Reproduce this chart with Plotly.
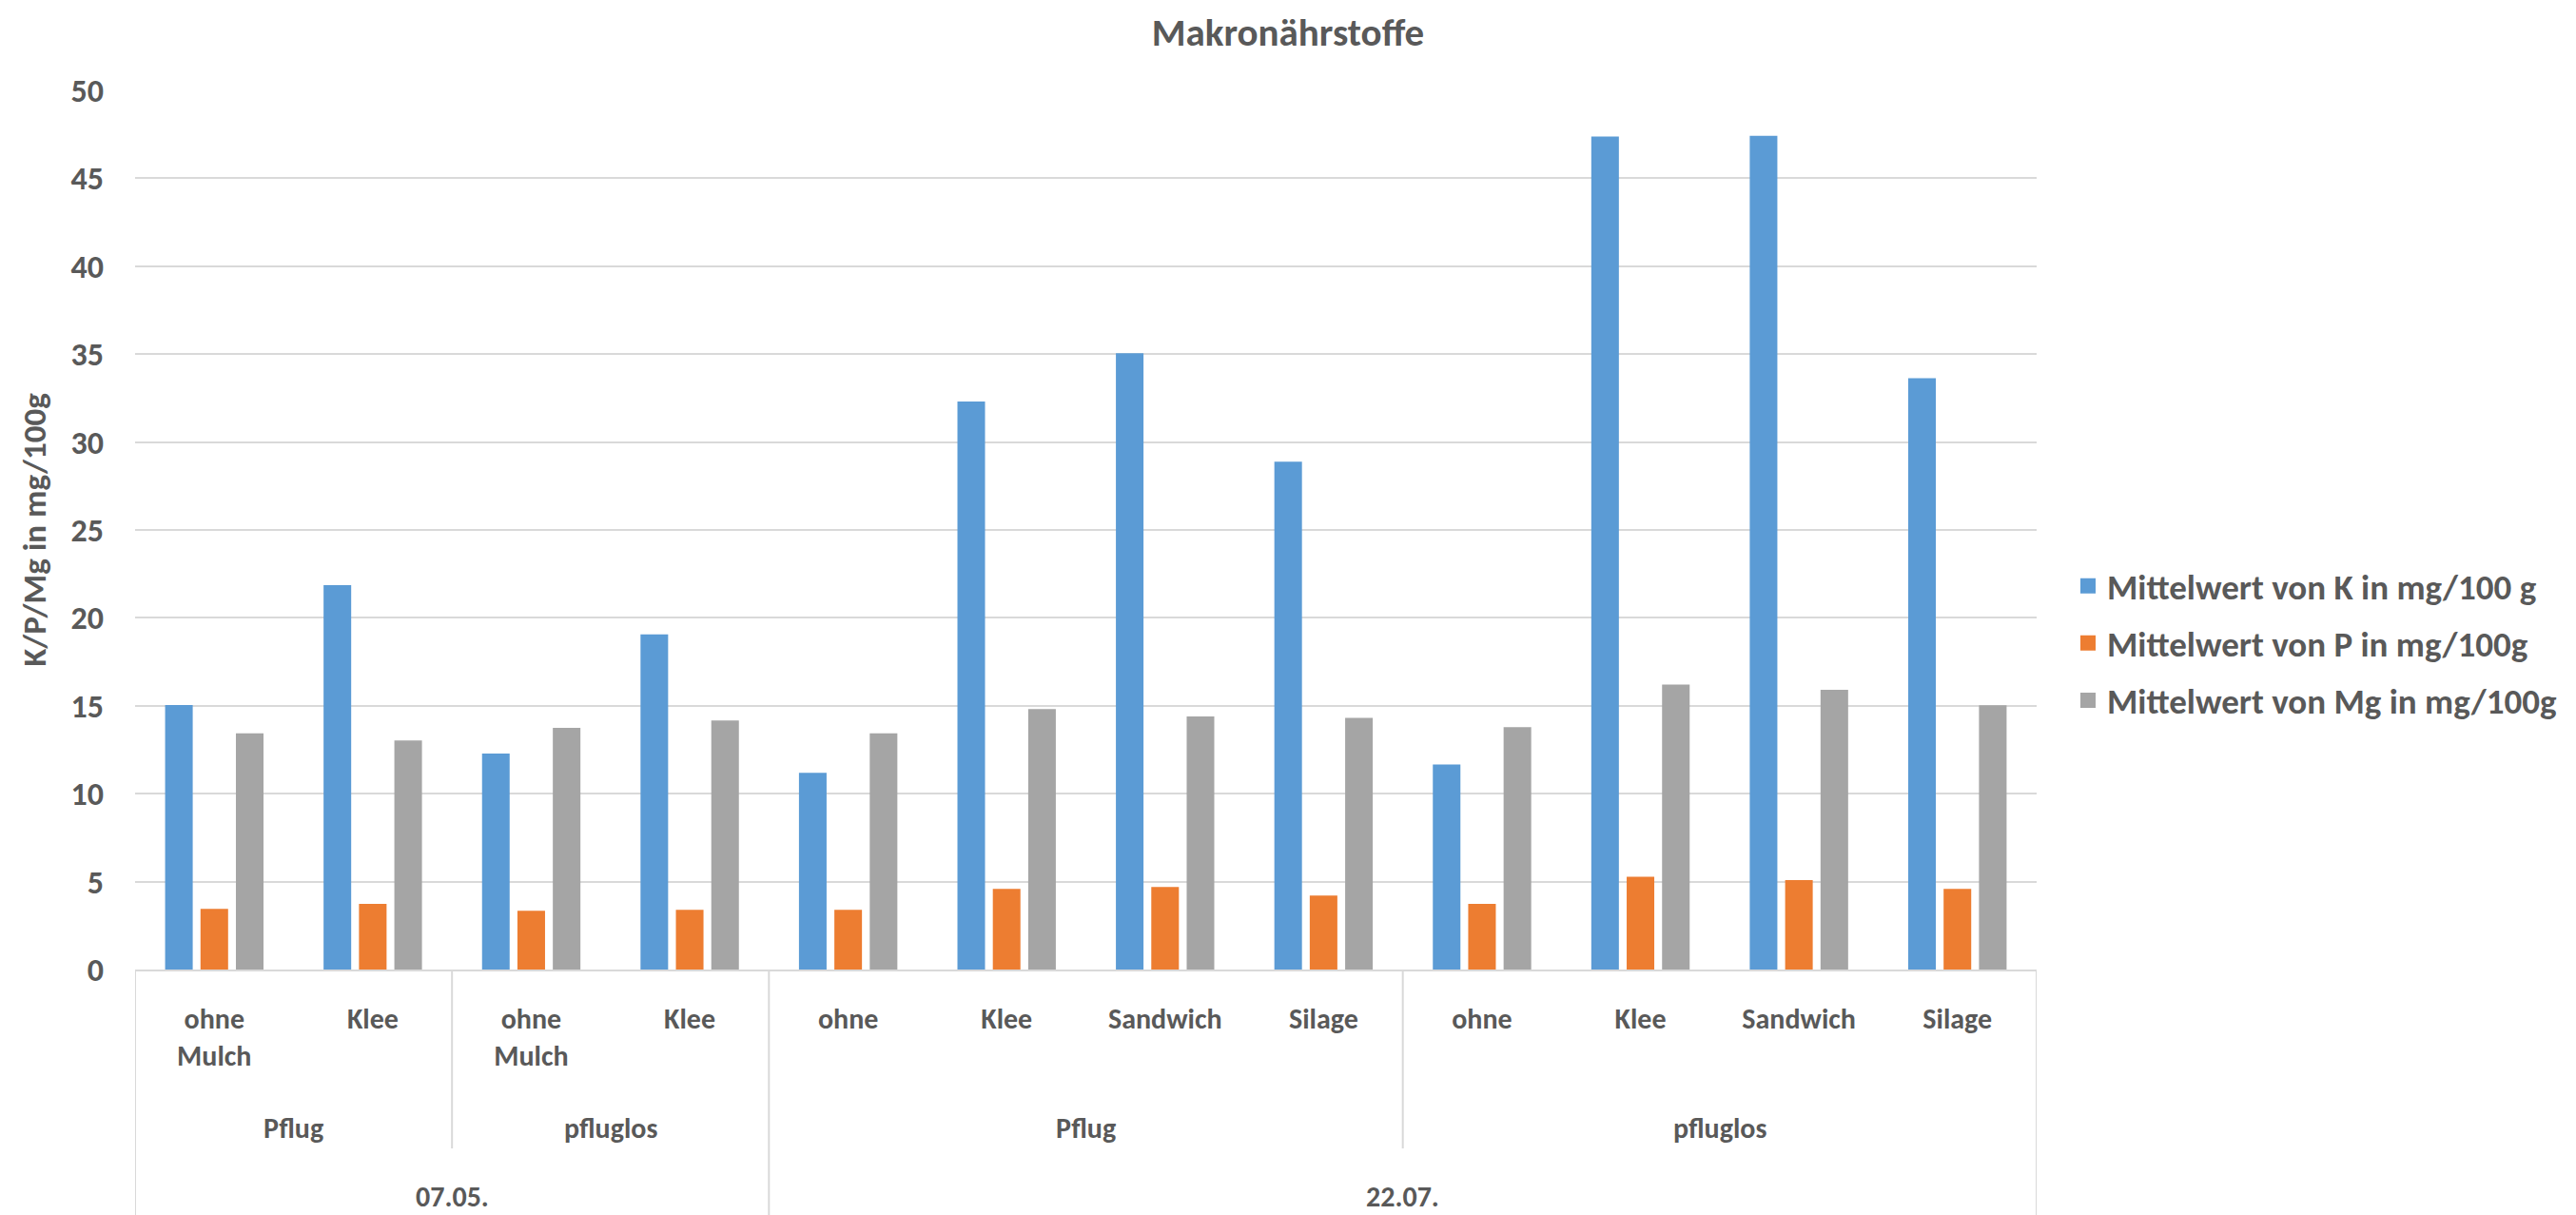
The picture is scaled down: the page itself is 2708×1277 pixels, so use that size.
import plotly.graph_objects as go

# ---- data ----
sub_labels = ["ohne<br>Mulch", "Klee", "ohne<br>Mulch", "Klee",
              "ohne", "Klee", "Sandwich", "Silage",
              "ohne", "Klee", "Sandwich", "Silage"]
tillage_labels = ["Pflug", "pfluglos", "Pflug", "pfluglos"]
tillage_spans = [(0, 1), (2, 3), (4, 7), (8, 11)]
date_labels = ["07.05.", "22.07."]
date_spans = [(0, 3), (4, 11)]

series_names = ["Mittelwert von K in mg/100 g",
                "Mittelwert von P in mg/100g",
                "Mittelwert von Mg in mg/100g"]
k_values = [15.05, 21.86, 12.29, 19.06, 11.19, 32.3, 35.05, 28.88, 11.66, 47.38, 47.41, 33.63]
p_values = [3.45, 3.74, 3.34, 3.39, 3.39, 4.58, 4.69, 4.21, 3.73, 5.27, 5.08, 4.58]
mg_values = [13.43, 13.03, 13.75, 14.17, 13.43, 14.82, 14.39, 14.31, 13.79, 16.21, 15.91, 15.03]
y_ticks = [0, 5, 10, 15, 20, 25, 30, 35, 40, 45, 50]
colors = ["#5B9BD5", "#ED7D31", "#A5A5A5"]

FONT = "Carlito, Calibri, Lato, sans-serif"
TXT = "#595959"
GRID = "#D9D9D9"


def bold(s):
    return "<b>" + s + "</b>"


x = list(range(len(sub_labels)))

fig = go.Figure()
for i, (name, vals) in enumerate(zip(series_names, [k_values, p_values, mg_values])):
    fig.add_trace(go.Bar(
        x=x, y=vals, name=bold(name),
        marker=dict(color=colors[i], line=dict(width=0)),
        legendgroup=f"g{i}", showlegend=False,
    ))
    # legend entry with a larger square swatch
    fig.add_trace(go.Scatter(
        x=[None], y=[None], mode="markers", name=bold(name),
        marker=dict(symbol="square", size=21, color=colors[i], line=dict(width=0)),
        legendgroup=f"g{i}", showlegend=True, hoverinfo="skip",
    ))

# level 2 and 3 category labels
for lab, (a, b) in zip(tillage_labels, tillage_spans):
    fig.add_annotation(x=(a + b) / 2, y=-0.1797, xref="x", yref="paper",
                       text=bold(lab), showarrow=False, yanchor="middle",
                       font=dict(family=FONT, size=30, color=TXT))
for lab, (a, b) in zip(date_labels, date_spans):
    fig.add_annotation(x=(a + b) / 2, y=-0.2580, xref="x", yref="paper",
                       text=bold(lab), showarrow=False, yanchor="middle",
                       font=dict(family=FONT, size=30, color=TXT))

# separator lines below the axis
date_bounds = [b + 0.5 for (_, b) in date_spans]
short_bounds = [b + 0.5 for (_, b) in tillage_spans if b + 0.5 not in date_bounds]
long_bounds = [-0.5] + date_bounds
for xb in long_bounds:
    fig.add_shape(type="line", xref="x", yref="paper", x0=xb, x1=xb, y0=0, y1=-0.3,
                  line=dict(color=GRID, width=2))
for xb in short_bounds:
    fig.add_shape(type="line", xref="x", yref="paper", x0=xb, x1=xb, y0=0, y1=-0.2035,
                  line=dict(color=GRID, width=2))

# page body has an 8px margin: figure is 8px smaller and margins shifted accordingly
fig.update_layout(
    width=2700, height=1269,
    margin=dict(l=134, r=567, t=87, b=258, autoexpand=False),
    paper_bgcolor="white", plot_bgcolor="white",
    font=dict(family=FONT, size=30, color=TXT),
    title=dict(text=bold("Makronährstoffe"), x=0.4985, xref="container", xanchor="center",
               y=1 - 26 / 1269, yref="container", yanchor="middle",
               font=dict(family=FONT, size=41, color=TXT)),
    bargap=0.33, bargroupgap=0.22, barmode="group",
    showlegend=True,
    legend=dict(x=1.017, xanchor="left", y=0.371, yanchor="middle",
                font=dict(family=FONT, size=37, color=TXT),
                traceorder="grouped", tracegroupgap=9,
                bgcolor="rgba(0,0,0,0)"),
    xaxis=dict(range=[-0.5, 11.5], tickmode="array", tickvals=x,
               ticktext=[bold(s) for s in sub_labels],
               ticks="", showgrid=False, zeroline=False,
               showline=True, linecolor=GRID, linewidth=2,
               tickfont=dict(family=FONT, size=30, color=TXT),
               ticklabelstandoff=24, tickangle=0, fixedrange=True),
    yaxis=dict(range=[0, 50], tickmode="array",
               tickvals=y_ticks,
               ticktext=[bold(str(v)) for v in y_ticks],
               ticks="",
               showgrid=True, gridcolor=GRID, gridwidth=2,
               zeroline=False, showline=False,
               tickfont=dict(family=FONT, size=34, color=TXT),
               ticklabelstandoff=32,
               title=dict(text=bold("K/P/Mg in mg/100g"), standoff=15,
                          font=dict(family=FONT, size=35, color=TXT))),
)

fig.write_html("out.html")
